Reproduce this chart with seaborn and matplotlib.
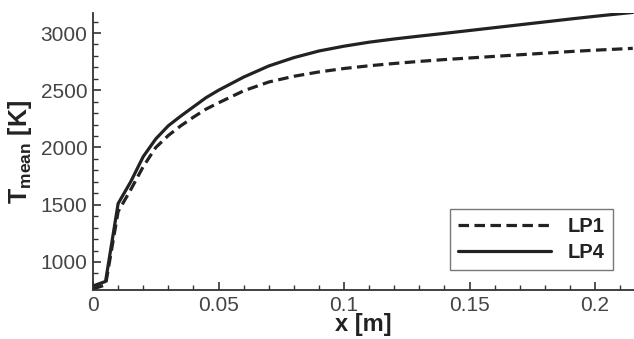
import numpy as np
import pandas as pd
import matplotlib
matplotlib.use("Agg")
import matplotlib.pyplot as plt
import seaborn as sns
from matplotlib.ticker import MultipleLocator

# axial position and mean temperature
x_m = [0, 0.005, 0.01, 0.015, 0.02, 0.025, 0.03, 0.035, 0.04, 0.045, 0.05,
       0.06, 0.07, 0.08, 0.09, 0.1, 0.11, 0.12, 0.13, 0.14, 0.15, 0.16, 0.17,
       0.18, 0.19, 0.2, 0.215]
t_lp1 = [765, 800, 1440, 1630, 1833, 2000, 2105, 2190, 2265, 2335, 2390,
         2495, 2572, 2622, 2660, 2690, 2714, 2734, 2752, 2768, 2782, 2796, 2810,
         2824, 2838, 2850, 2866]
t_lp4 = [790, 830, 1510, 1700, 1920, 2075, 2190, 2275, 2355, 2435, 2500,
         2615, 2712, 2785, 2843, 2885, 2920, 2948, 2973, 2997, 3022, 3047, 3072,
         3097, 3122, 3146, 3180]

df = pd.DataFrame({
    "x": x_m * 2,
    "T": t_lp1 + t_lp4,
    "case": ["LP1"] * len(x_m) + ["LP4"] * len(x_m),
})

sns.set_style("ticks")
plt.rcParams["font.family"] = ["Liberation Sans", "DejaVu Sans"]
plt.rcParams["mathtext.fontset"] = "custom"
plt.rcParams["mathtext.bf"] = "Liberation Sans:bold"
plt.rcParams["mathtext.rm"] = "Liberation Sans"

grey = "#333333"
fig = plt.figure(figsize=(6.34, 3.39), dpi=100)
ax = fig.add_axes([0.1467, 0.1445, 0.8533, 0.8172])

sns.lineplot(data=df, x="x", y="T", style="case", color="#222222",
             dashes={"LP1": (3.3, 1.7), "LP4": ""}, linewidth=2.3, ax=ax,
             style_order=["LP1", "LP4"])

ax.set_xlim(0, 0.2155)
ax.set_ylim(755, 3175)
ax.xaxis.set_major_locator(MultipleLocator(0.05))
ax.xaxis.set_minor_locator(MultipleLocator(0.01))
ax.yaxis.set_major_locator(MultipleLocator(500))
ax.yaxis.set_minor_locator(MultipleLocator(100))
ax.set_xticks([0, 0.05, 0.1, 0.15, 0.2])
ax.set_xticklabels(["0", "0.05", "0.1", "0.15", "0.2"])
ax.tick_params(which="major", direction="in", length=6, width=1.2,
               colors=grey, labelsize=15, labelcolor="#444444", pad=4)
ax.tick_params(which="minor", direction="in", length=3.5, width=1.0, colors=grey)

sns.despine(ax=ax)
for s in ["left", "bottom"]:
    ax.spines[s].set_color(grey)
    ax.spines[s].set_linewidth(1.3)

ax.set_xlabel("x [m]", fontsize=17, fontweight="bold", color="#222222", labelpad=-1)
ax.set_ylabel(r"$\mathbf{T_{mean}}$ [K]", fontsize=18, fontweight="bold",
              color="#222222", labelpad=5)

leg = ax.legend(loc="lower right", bbox_to_anchor=(0.961, 0.072), borderaxespad=0,
                handlelength=4.6, prop={"weight": "bold", "size": 14.5},
                fancybox=False, frameon=True, borderpad=0.4, labelspacing=0.35,
                handletextpad=0.85)
leg.get_frame().set_edgecolor("#555555")
leg.get_frame().set_linewidth(1.0)
for t in leg.get_texts():
    t.set_color("#222222")

fig.savefig("out.png", dpi=100)
